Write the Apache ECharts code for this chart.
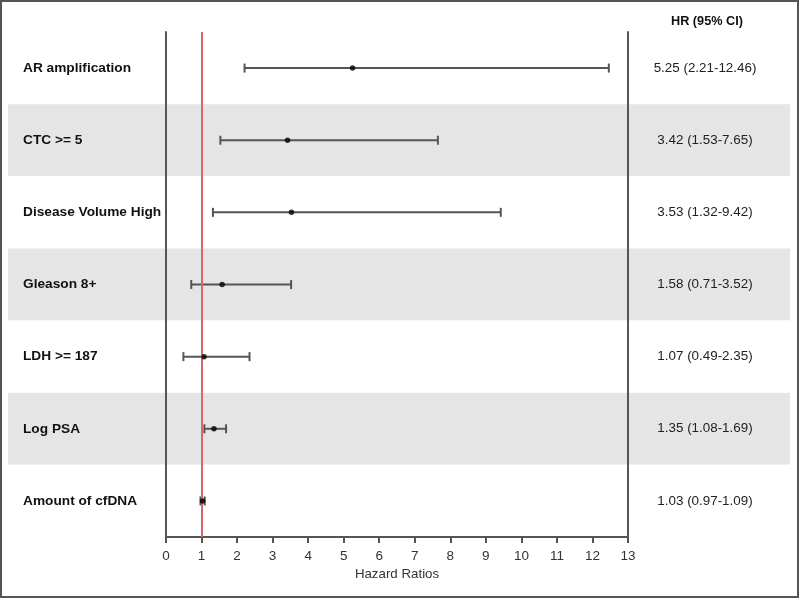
<!DOCTYPE html>
<html><head><meta charset="utf-8">
<script src="https://cdn.jsdelivr.net/npm/echarts@6/dist/echarts.min.js"></script>
<style>html,body{margin:0;padding:0;background:#fff}#c{width:800px;height:600px}</style>
</head><body><div id="c"></div>
<script>
const categories = ['AR amplification','CTC >= 5','Disease Volume High','Gleason 8+','LDH >= 187','Log PSA','Amount of cfDNA'];
const hr = [5.25, 3.42, 3.53, 1.58, 1.07, 1.35, 1.03];
const ciLow = [2.21, 1.53, 1.32, 0.71, 0.49, 1.08, 0.97];
const ciHigh = [12.46, 7.65, 9.42, 3.52, 2.35, 1.69, 1.09];
const hrText = ['5.25 (2.21-12.46)','3.42 (1.53-7.65)','3.53 (1.32-9.42)','1.58 (0.71-3.52)','1.07 (0.49-2.35)','1.35 (1.08-1.69)','1.03 (0.97-1.09)'];
const xTicks = [0,1,2,3,4,5,6,7,8,9,10,11,12,13];

const chart = echarts.init(document.getElementById('c'));
const font = '"Liberation Sans", Arial, sans-serif';
const barData = categories.map((c,i)=>[ciLow[i], ciHigh[i], i]);
const pointData = categories.map((c,i)=>[hr[i], i]);

chart.setOption({
  animation: false,
  textStyle: {fontFamily: font},
  graphic: [
    {type:'rect', shape:{x:1,y:1,width:797,height:596}, style:{fill:'none', stroke:'#555', lineWidth:2}, z:100},
    {type:'text', left: 671, top: 15, style:{text:'HR (95% CI)', font:'bold 12.7px ' + font, fill:'#111'}}
  ],
  grid: [
    {left: 8, right: 10, top: 32, bottom: 63},
    {left: 166, right: 172, top: 32, bottom: 63}
  ],
  xAxis: [
    {gridIndex:0, type:'value', show:false, min:0, max:1},
    {gridIndex:1, type:'value', min:0, max:13, interval:1,
     name:'Hazard Ratios', nameLocation:'middle', nameGap:31,
     nameTextStyle:{color:'#333', fontSize:13.3, fontFamily:font},
     axisLine:{show:true, onZero:false, lineStyle:{color:'#555', width:2}},
     axisTick:{show:true, length:6, lineStyle:{color:'#555', width:2}},
     axisLabel:{color:'#333', fontSize:13.5, margin:12, fontFamily:font, formatter:(v)=>xTicks.includes(v)?String(v):''},
     splitLine:{show:false}}
  ],
  yAxis: [
    {gridIndex:0, type:'category', data:categories, inverse:true,
     axisLine:{show:false}, axisTick:{show:false}, axisLabel:{show:false},
     splitLine:{show:false},
     splitArea:{show:true, areaStyle:{color:['#ffffff','#e5e5e5']}}},
    {gridIndex:1, type:'category', data:categories, inverse:true, position:'left',
     axisLine:{show:true, lineStyle:{color:'#555', width:2}}, axisTick:{show:false},
     axisLabel:{align:'left', margin:143, color:'#111', fontWeight:'bold', fontSize:13.7, fontFamily:font}},
    {gridIndex:1, type:'category', data:categories, inverse:true, position:'right',
     axisLine:{show:true, lineStyle:{color:'#555', width:2}}, axisTick:{show:false},
     axisLabel:{align:'center', margin:77, color:'#222', fontSize:13.4, fontFamily:font,
       formatter:(v)=>hrText[categories.indexOf(v)]}},
    {gridIndex:1, type:'value', min:-0.5, max:6.5, inverse:true, show:false}
  ],
  series: [
    {type:'custom', xAxisIndex:1, yAxisIndex:3, z:3,
     renderItem:(params, api)=>{
       const y = api.value(2);
       const p1 = api.coord([api.value(0), y]);
       const p2 = api.coord([api.value(1), y]);
       const h = 4.5;
       const st = {stroke:'#555', lineWidth:2};
       return {type:'group', children:[
         {type:'line', shape:{x1:p1[0],y1:p1[1],x2:p2[0],y2:p2[1]}, style:st},
         {type:'line', shape:{x1:p1[0],y1:p1[1]-h,x2:p1[0],y2:p1[1]+h}, style:st},
         {type:'line', shape:{x1:p2[0],y1:p2[1]-h,x2:p2[0],y2:p2[1]+h}, style:st}
       ]};
     },
     encode:{x:[0,1], y:2},
     data: barData
    },
    {type:'scatter', xAxisIndex:1, yAxisIndex:3, z:5, symbol:'circle', symbolSize:5.5,
     itemStyle:{color:'#000'}, data: pointData,
     markLine:{silent:true, symbol:'none', label:{show:false},
       lineStyle:{color:'#d46a6a', width:2, type:'solid'},
       data:[{xAxis:1}]}}
  ]
});
</script></body></html>
